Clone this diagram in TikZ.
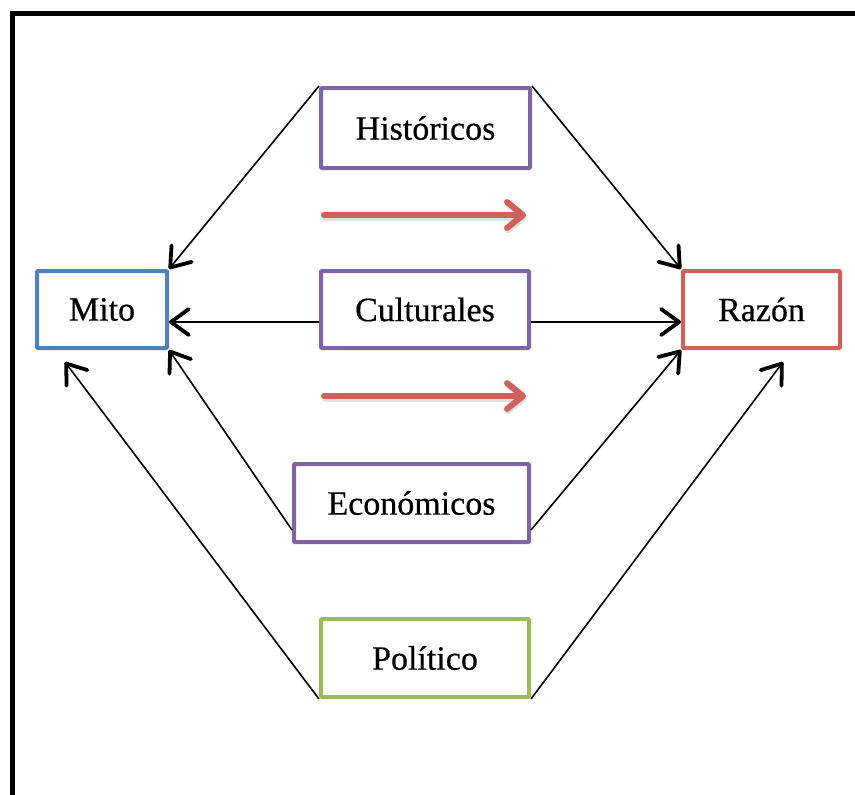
\documentclass[tikz,border=0pt]{standalone}
\usepackage{fontspec}
\setmainfont{Liberation Serif}
\newfontfamily\boxfont{Liberation Serif}[FakeBold=0.5]
\usetikzlibrary{arrows.meta}

\definecolor{boxpurple}{HTML}{8064A2}
\definecolor{boxblue}{HTML}{4F81BD}
\definecolor{boxred}{HTML}{D0605C}
\definecolor{boxgreen}{HTML}{9BBB59}
\definecolor{flowred}{HTML}{D0605C}

% box caption, set a little below the box centre
\newcommand{\boxlabel}[1]{\raisebox{-3pt}{#1}}

\begin{document}
\begin{tikzpicture}[x=1pt,y=-1pt,
  box/.style={draw, line width=4pt, rounded corners=1pt, inner sep=0pt,
              font=\boxfont\fontsize{34}{40}\selectfont, fill=white},
  conn/.style={line width=1.6pt, black,
               -{Straight Barb[length=18pt,width=26pt,line width=3.8pt,round]}},
  flow/.style={line width=6pt, flowred, line cap=round,
               -{Straight Barb[length=16pt,width=26pt,line width=6pt,round]}},
  flowshadow/.style={line width=6pt, black, opacity=0.12, line cap=round,
               -{Straight Barb[length=16pt,width=26pt,line width=6pt,round]}}]
\useasboundingbox (0,0) rectangle (855,795);

% outer frame (open to the right and bottom)
\draw[line width=5pt, line join=miter] (12,820) -- (12,13.5) -- (880,13.5);

% factor boxes
\node[box, draw=boxpurple, minimum width=209pt, minimum height=80pt] (hist) at (425.5,128) {\boxlabel{Históricos}};
\node[box, draw=boxpurple, minimum width=208pt, minimum height=77pt] (cult) at (425,309.5) {\boxlabel{Culturales}};
\node[box, draw=boxpurple, minimum width=235pt, minimum height=78pt] (eco) at (411.5,503) {\boxlabel{Económicos}};
\node[box, draw=boxgreen, minimum width=208pt, minimum height=78pt] (pol) at (425,658) {\boxlabel{Político}};

% end points
\node[box, draw=boxblue, minimum width=130pt, minimum height=77pt] (mito) at (102,309.5) {\boxlabel{Mito}};
\node[box, draw=boxred, minimum width=157pt, minimum height=77pt] (razon) at (761.5,309.5) {\boxlabel{Razón}};

% connectors
\draw[conn] (hist.north west) -- (mito.north east);
\draw[conn] (hist.north east) -- (razon.north west);
\draw[conn] ([yshift=-12.5pt]cult.west) -- ([yshift=-12.5pt]mito.east);
\draw[conn] ([yshift=-12.5pt]cult.east) -- ([yshift=-12.5pt]razon.west);
\draw[conn] ([yshift=14pt]eco.south west) -- (mito.south east);
\draw[conn] ([yshift=14pt]eco.south east) -- (razon.south west);
\coordinate (mitoin) at (65,362);
\coordinate (razonin) at (783,362);
\draw[conn] (pol.south west) -- (mitoin);
\draw[conn] (pol.south east) -- (razonin);

% transition arrows
\coordinate (f1a) at (324,215);
\coordinate (f1b) at (526,215);
\coordinate (f2a) at (324,396);
\coordinate (f2b) at (526,396);
\draw[flowshadow] ([shift={(1pt,-2.5pt)}]f1a) -- ([shift={(1pt,-2.5pt)}]f1b);
\draw[flowshadow] ([shift={(1pt,-2.5pt)}]f2a) -- ([shift={(1pt,-2.5pt)}]f2b);
\draw[flow] (f1a) -- (f1b);
\draw[flow] (f2a) -- (f2b);
\end{tikzpicture}
\end{document}
